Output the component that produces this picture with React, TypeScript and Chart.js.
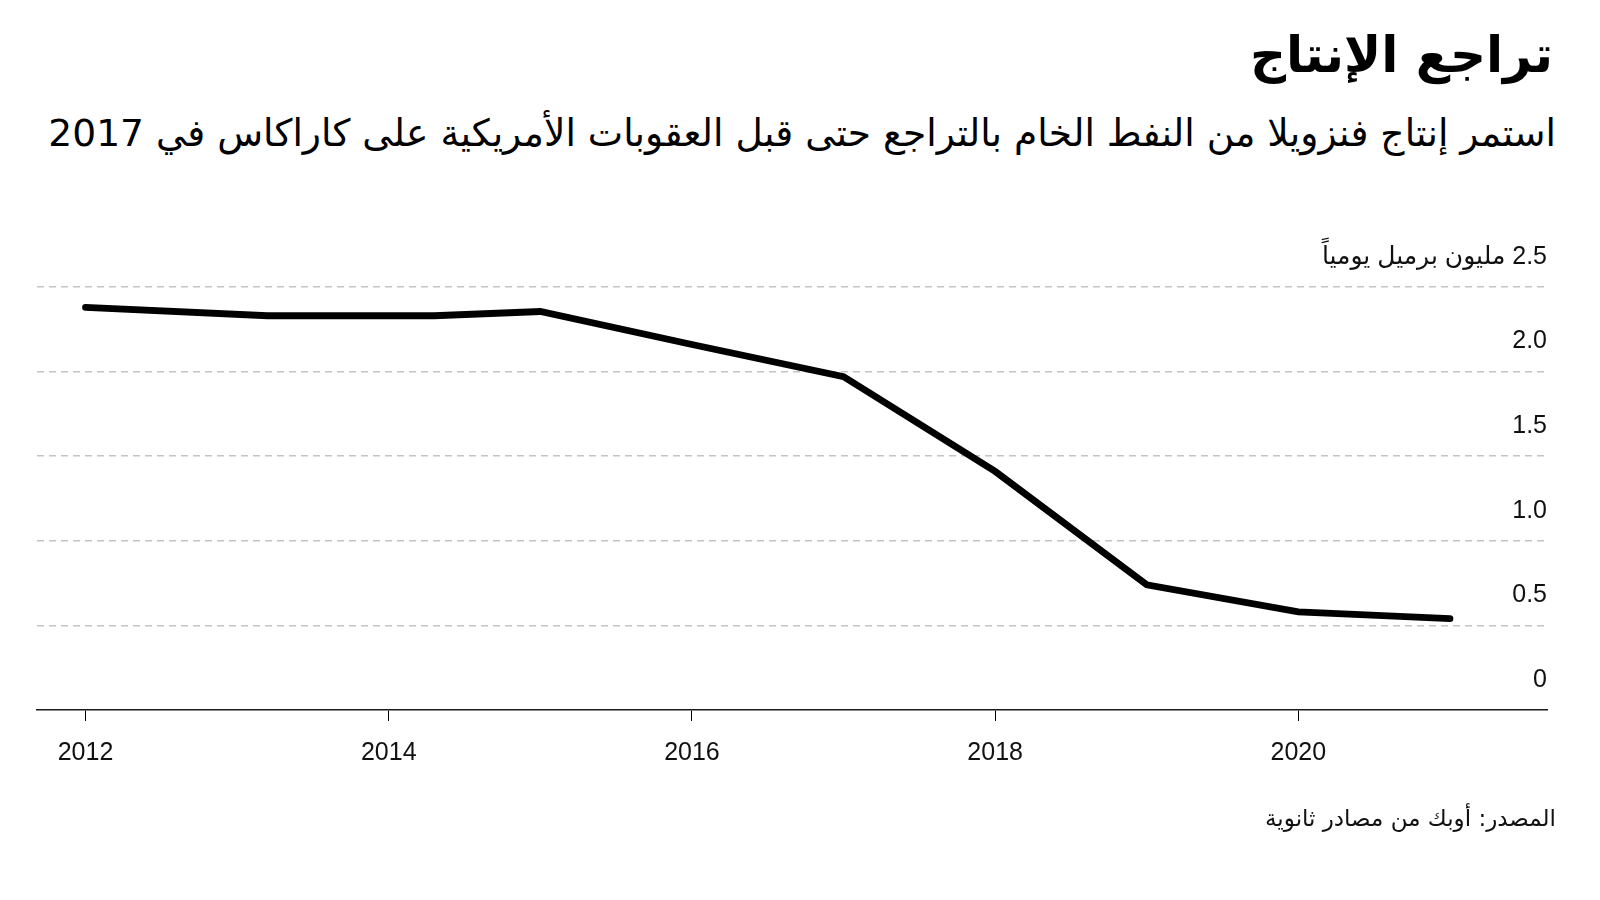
import React, { useEffect, useRef } from "react";
import { Chart, registerables } from "chart.js";

Chart.register(...registerables);

const years: number[] = [2012, 2013.2, 2014.3, 2015, 2016, 2017, 2018, 2019, 2020, 2021];
const production: number[] = [2.38, 2.33, 2.33, 2.355, 2.16, 1.97, 1.41, 0.74, 0.58, 0.54];
const xTickYears: number[] = [2012, 2014, 2016, 2018, 2020];
const yTickValues: number[] = [0, 0.5, 1, 1.5, 2, 2.5];
const yTickLabels: string[] = ["0", "0.5", "1.0", "1.5", "2.0", "\u200F2.5 مليون برميل يومياً"];

const titleText = "تراجع الإنتاج";
const subtitleText = "استمر إنتاج فنزويلا من النفط الخام بالتراجع حتى قبل العقوبات الأمريكية على كاراكاس في 2017";
const sourceText = "المصدر: أوبك من مصادر ثانوية";

const arabicFont = '"DejaVu Sans", "Noto Sans", sans-serif';
const numFont = '"Liberation Sans", "DejaVu Sans", sans-serif';

export default function App() {
  const canvasRef = useRef<HTMLCanvasElement | null>(null);

  useEffect(() => {
    if (!canvasRef.current) return;
    document.body.style.margin = "0";
    const chart = new Chart(canvasRef.current, {
      type: "line",
      data: {
        datasets: [
          {
            data: years.map((y, i) => ({ x: y, y: production[i] })),
            borderColor: "#000000",
            borderWidth: 6.8,
            borderCapStyle: "round",
            borderJoinStyle: "miter",
            pointRadius: 0,
            tension: 0,
            fill: false,
          },
        ],
      },
      options: {
        animation: false,
        responsive: false,
        devicePixelRatio: 1,
        layout: { padding: { left: 37, right: 53, top: 287, bottom: 115 } },
        plugins: { legend: { display: false }, tooltip: { enabled: false } },
        scales: {
          x: {
            type: "linear",
            min: 2011.68,
            max: 2021.64,
            afterBuildTicks: (axis: any) => {
              axis.ticks = xTickYears.map((v) => ({ value: v }));
            },
            grid: {
              drawOnChartArea: false,
              drawTicks: true,
              tickLength: 11,
              color: "#000000",
              lineWidth: 1,
            },
            border: { display: true, color: "#1a1a1a", width: 1.5 },
            ticks: {
              padding: 17,
              color: "#111111",
              font: { family: numFont, size: 25 },
              maxRotation: 0,
              callback: (v: any) => String(v),
            },
          },
          y: {
            position: "right",
            min: 0,
            max: 2.5,
            afterBuildTicks: (axis: any) => {
              axis.ticks = yTickValues.map((v) => ({ value: v }));
            },
            grid: {
              drawTicks: false,
              color: (ctx: any) => (ctx.tick && ctx.tick.value === 0 ? "rgba(0,0,0,0)" : "#c4c4c4"),
              lineWidth: 1.5,
            },
            border: { display: false, dash: [7, 5] },
            ticks: {
              mirror: true,
              padding: 0,
              labelOffset: -30,
              color: "#111111",
              font: { family: numFont, size: 25 },
              callback: (v: any) => {
                const idx = yTickValues.indexOf(Number(v));
                return idx >= 0 ? yTickLabels[idx] : "";
              },
            },
          },
        },
      },
    } as any);
    return () => chart.destroy();
  }, []);

  return (
    <div style={{ position: "absolute", left: 0, top: 0, width: 1600, height: 900, background: "#ffffff", overflow: "hidden" }}>
      <div
        dir="rtl"
        style={{
          position: "absolute",
          right: 47,
          top: 25,
          fontFamily: arabicFont,
          fontWeight: 700,
          fontSize: 50,
          lineHeight: "60px",
          color: "#000",
          whiteSpace: "nowrap",
        }}
      >
        {titleText}
      </div>
      <div
        dir="rtl"
        style={{
          position: "absolute",
          right: 44,
          top: 111,
          fontFamily: arabicFont,
          fontSize: 37.6,
          lineHeight: "44px",
          color: "#000",
          whiteSpace: "nowrap",
        }}
      >
        {subtitleText}
      </div>
      <canvas ref={canvasRef} width={1600} height={900} style={{ position: "absolute", left: 0, top: 0, width: 1600, height: 900 }} />
      <div
        dir="rtl"
        style={{
          position: "absolute",
          right: 44,
          top: 803,
          fontFamily: arabicFont,
          fontSize: 23,
          lineHeight: "30px",
          color: "#111",
          whiteSpace: "nowrap",
        }}
      >
        {sourceText}
      </div>
    </div>
  );
}
